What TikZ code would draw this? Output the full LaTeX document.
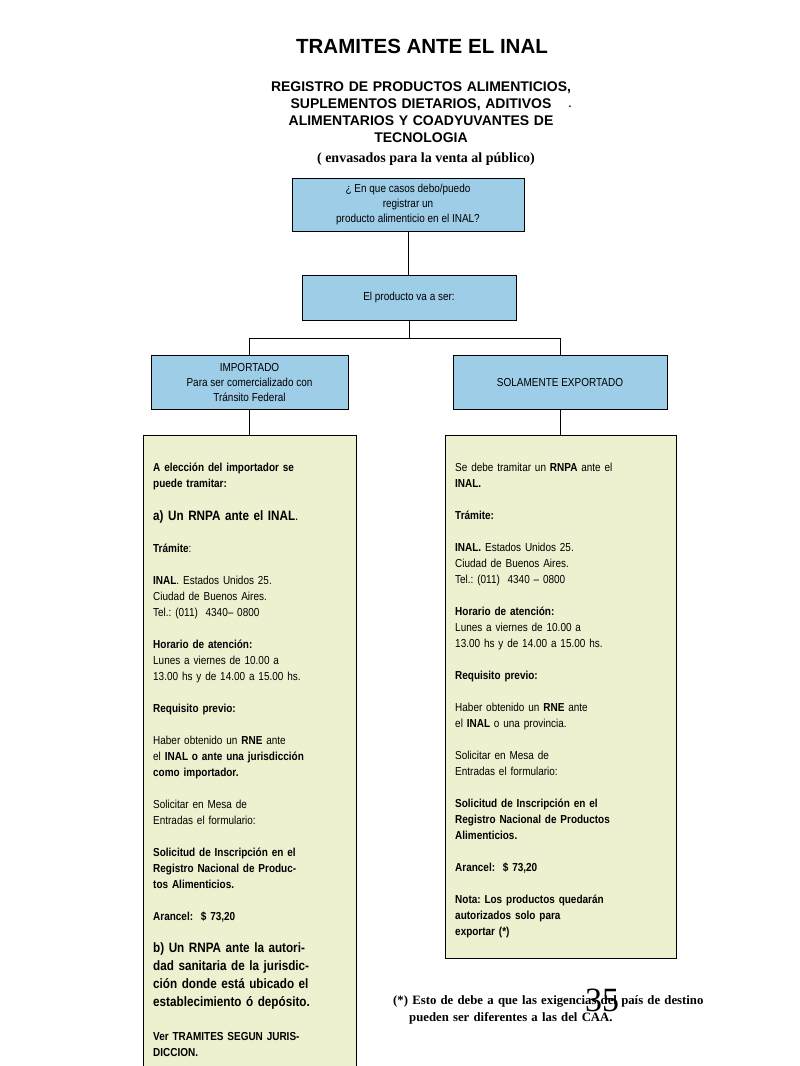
\documentclass[tikz,border=0pt]{standalone}
\usepackage{fontspec}
\setmainfont{Liberation Sans}
\newfontfamily\narrowfont{Liberation Sans}[FakeStretch=0.86]
\newfontfamily\notefont{Liberation Serif}
\usetikzlibrary{positioning}
\frenchspacing

\definecolor{qblue}{RGB}{158,205,232}
\definecolor{notecream}{RGB}{238,240,207}

\tikzset{
  flowbox/.style={draw, fill=qblue, line width=0.8pt, align=center, inner sep=0pt, font=\narrowfont\fontsize{11.6}{15}\selectfont},
  infobox/.style={draw, fill=notecream, line width=0.8pt, anchor=north west, inner sep=0pt},
  infotext/.style={anchor=base west, align=left, inner sep=0pt, text width=205pt, font=\narrowfont\fontsize{11.6}{16}\selectfont},
  link/.style={line width=0.8pt},
}

\begin{document}
\begin{tikzpicture}[x=1pt,y=-1pt]
    \useasboundingbox (0,0) rectangle (800,1066);
    \clip (0,0) rectangle (800,1066);

    % Titulos
    \node[anchor=base, inner sep=0pt, font=\bfseries\fontsize{20.5}{24}\selectfont] (titulo) at (422,53) {TRAMITES ANTE EL INAL};
    \node[anchor=base, align=center, text width=360pt, inner sep=0pt, font=\bfseries\fontsize{14}{17}\selectfont] (registro) at (421,91)
        {REGISTRO DE PRODUCTOS ALIMENTICIOS,\\ SUPLEMENTOS DIETARIOS, ADITIVOS\\ ALIMENTARIOS Y COADYUVANTES DE\\ TECNOLOGIA};
    \node[anchor=base, inner sep=0pt, font=\bfseries\fontsize{10}{12}\selectfont] (punto) at (570,107) {.};
    \node[anchor=base, inner sep=0pt, font=\notefont\bfseries\fontsize{14}{17}\selectfont] (envase) at (426,162) {( envasados para la venta al público)};

    % Cajas del diagrama
    \node[flowbox, minimum width=232pt, minimum height=53pt] (pregunta) at (408,204.5)
        {¿ En que casos debo/puedo\\ registrar un\\ producto alimenticio en el INAL?};
    \node[flowbox, minimum width=214pt, minimum height=45pt] (destino) at (409,297.5) {El producto va a ser:};
    \node[flowbox, minimum width=197pt, minimum height=54pt] (importado) at (249.5,382)
        {IMPORTADO\\ Para ser comercializado con\\ Tránsito Federal};
    \node[flowbox, minimum width=214pt, minimum height=54pt] (exportado) at (560,382) {SOLAMENTE EXPORTADO};

    \node[infobox, minimum width=213pt, minimum height=640pt] (impinfo) at (143,435) {};
    \node[infobox, minimum width=231pt, minimum height=523pt] (expinfo) at (445,435) {};

    % Conectores
    \draw[link] (pregunta.south) -- (pregunta.south |- destino.north);
    \draw[link] (destino.south) -- ++(0,18) coordinate (rama);
    \draw[link] (importado.north) |- (rama) -| (exportado.north);
    \draw[link] (importado.south) -- (importado.south |- impinfo.north);
    \draw[link] (exportado.south) -- (exportado.south |- expinfo.north);

    % Importado
    \node[infotext, font=\narrowfont\bfseries\fontsize{11.6}{16}\selectfont] (impA) at (153,471) {A elección del importador se\\ puede tramitar:};
    \node[infotext, font=\narrowfont\fontsize{13.6}{18}\selectfont] (impB) at (153,520) {\textbf{a) Un RNPA ante el INAL}.};
    \node[infotext] (impC) at (153,552) {\textbf{Trámite}:\\[16pt]
        \textbf{INAL}. Estados Unidos 25.\\ Ciudad de Buenos Aires.\\ Tel.: (011)\ \ 4340– 0800\\[16pt]
        \textbf{Horario de atención:}\\ Lunes a viernes de 10.00 a\\ 13.00 hs y de 14.00 a 15.00 hs.\\[16pt]
        \textbf{Requisito previo:}\\[16pt]
        Haber obtenido un \textbf{RNE} ante\\ el \textbf{INAL o ante una jurisdicción}\\ \textbf{como importador.}\\[16pt]
        Solicitar en Mesa de\\ Entradas el formulario:\\[16pt]
        \textbf{Solicitud de Inscripción en el}\\ \textbf{Registro Nacional de Produc-}\\ \textbf{tos Alimenticios.}\\[16pt]
        \textbf{Arancel:\ \ \$ 73,20}};
    \node[infotext, font=\narrowfont\bfseries\fontsize{13.6}{18}\selectfont] (impD) at (153,952)
        {b) Un RNPA ante la autori-\\ dad sanitaria de la jurisdic-\\ ción donde está ubicado el\\ establecimiento ó depósito.};
    \node[infotext, font=\narrowfont\bfseries\fontsize{11.6}{16}\selectfont] (impE) at (153,1040) {Ver TRAMITES SEGUN JURIS-\\ DICCION.};

    % Solamente exportado
    \node[infotext, text width=225pt] (expA) at (455,471) {Se debe tramitar un \textbf{RNPA} ante el\\ \textbf{INAL.}\\[16pt]
        \textbf{Trámite:}\\[16pt]
        \textbf{INAL.} Estados Unidos 25.\\ Ciudad de Buenos Aires.\\ Tel.: (011)\ \ 4340 – 0800\\[16pt]
        \textbf{Horario de atención:}\\ Lunes a viernes de 10.00 a\\ 13.00 hs y de 14.00 a 15.00 hs.\\[16pt]
        \textbf{Requisito previo:}\\[16pt]
        Haber obtenido un \textbf{RNE} ante\\ el \textbf{INAL} o una provincia.\\[16pt]
        Solicitar en Mesa de\\ Entradas el formulario:\\[16pt]
        \textbf{Solicitud de Inscripción en el}\\ \textbf{Registro Nacional de Productos}\\ \textbf{Alimenticios.}\\[16pt]
        \textbf{Arancel:\ \ \$ 73,20}\\[16pt]
        \textbf{Nota: Los productos quedarán}\\ \textbf{autorizados solo para}\\ \textbf{exportar (*)}};

    % Nota al pie
    \node[font=\notefont\fontsize{34}{40}\selectfont] (pagina) at (602,1000) {35};
    \node[anchor=base west, align=left, text width=330pt, inner sep=0pt, font=\notefont\bfseries\fontsize{12.75}{17}\selectfont] (nota) at (393,1004)
        {(*) Esto de debe a que las exigencias del país de destino\\ \hspace*{16pt}pueden ser diferentes a las del CAA.};
\end{tikzpicture}
\end{document}
